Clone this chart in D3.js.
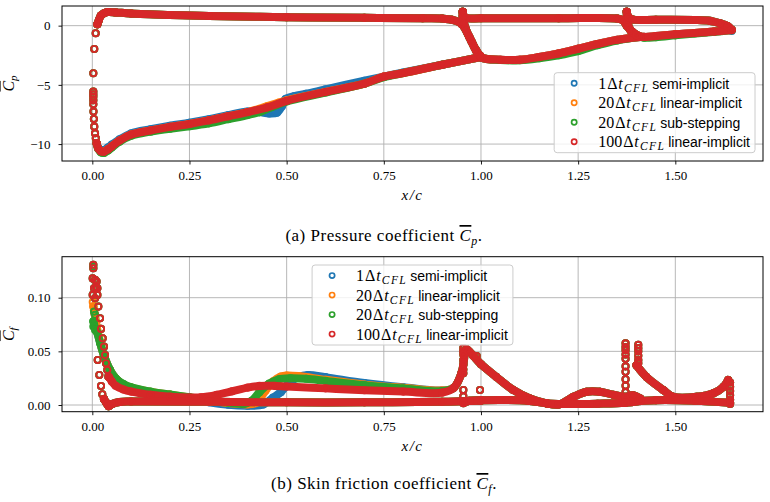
<!DOCTYPE html>
<html>
<head>
<meta charset="utf-8">
<script src="https://cdn.jsdelivr.net/npm/d3@7"></script>
<style>
  body { margin: 0; background: #fff; }
</style>
</head>
<body>
<div id="fig"></div>
<script>
// ---- runs (legend order = draw order) ----
const runFactor = ["1", "20", "20", "100"];
const runScheme = ["semi-implicit", "linear-implicit", "sub-stepping", "linear-implicit"];
const runColor  = ["#1f77b4", "#ff7f0e", "#2ca02c", "#d62728"];

// ---- ticks ----
const xTicks  = [0, 0.25, 0.5, 0.75, 1.0, 1.25, 1.5];
const cpTicks = [0, -5, -10];
const cfTicks = [0, 0.05, 0.10];

// ---- mean Cp, pairs of [x/c, Cp] ----
// sparse samples round the main-element leading edge
const cpLePts = [[0.0026,-4.02],[0.005,-1.97],[0.0087,-0.64],[0.013,0.12],[0.0026,-5.57],[0.0026,-5.8],
  [0.0026,-6.0],[0.0026,-6.3],[0.0026,-6.64],[0.003,-7.26],[0.004,-7.88],[0.005,-8.53],[0.007,-9.09],
  [0.009,-9.51],[0.011,-9.93]];
const cpTe1Pts = [[1.645,-0.45]];

// main element suction side, one per run
const cpMainSuction1 = [[0.011,-9.93],[0.015,-10.3],[0.022,-10.5],[0.03,-10.5],[0.04,-10.3],[0.05,-10.05],
  [0.07,-9.6],[0.1,-9.1],[0.15,-8.75],[0.2,-8.45],[0.25,-8.2],[0.3,-7.9],[0.35,-7.55],[0.4,-7.25],
  [0.43,-7.3],[0.455,-7.42],[0.475,-7.35],[0.488,-6.8],[0.497,-6.2],[0.52,-5.95],[0.55,-5.75],[0.6,-5.38],
  [0.7,-4.65],[0.75,-4.3],[0.8,-3.95],[0.9,-3.3],[1.0,-2.65]];
const cpMainSuction20lin = [[0.011,-9.93],[0.015,-10.35],[0.022,-10.6],[0.03,-10.65],[0.04,-10.45],
  [0.05,-10.2],[0.07,-9.7],[0.1,-9.2],[0.15,-8.85],[0.2,-8.55],[0.25,-8.3],[0.3,-8.0],[0.35,-7.65],
  [0.4,-7.3],[0.45,-6.8],[0.48,-6.5],[0.5,-6.3],[0.6,-5.6],[0.7,-4.9],[0.75,-4.3],[0.8,-4.0],[0.9,-3.3],[1.0,-2.65]];
const cpMainSuction20sub = [[0.011,-9.93],[0.015,-10.4],[0.022,-10.7],[0.03,-10.75],[0.04,-10.55],
  [0.05,-10.3],[0.07,-9.8],[0.1,-9.3],[0.15,-8.95],[0.2,-8.7],[0.25,-8.5],[0.3,-8.25],[0.35,-7.9],
  [0.4,-7.55],[0.43,-7.3],[0.46,-6.9],[0.5,-6.4],[0.6,-5.65],[0.7,-4.9],[0.75,-4.35],[0.8,-4.0],[0.9,-3.3],[1.0,-2.65]];
const cpMainSuction100lin = [[0.011,-9.93],[0.015,-10.35],[0.022,-10.6],[0.03,-10.65],[0.04,-10.45],
  [0.05,-10.2],[0.07,-9.7],[0.1,-9.2],[0.15,-8.85],[0.2,-8.55],[0.25,-8.3],[0.3,-8.0],[0.35,-7.65],
  [0.4,-7.3],[0.45,-6.9],[0.5,-6.35],[0.6,-5.6],[0.7,-4.9],[0.75,-4.3],[0.8,-4.0],[0.9,-3.3],[1.0,-2.65]];

// shared by all runs
const cpMainPressure = [[0.013,0.12],[0.017,0.48],[0.022,0.85],[0.03,1.05],[0.04,1.15],[0.06,1.12],
  [0.1,1.02],[0.2,0.9],[0.3,0.82],[0.5,0.72],[0.7,0.66],[0.85,0.62],[0.9,0.6],[0.925,0.5],[0.95,0.15],
  [0.97,-0.95],[0.988,-2.1],[0.998,-2.55]];
const cpFlapPressure = [[0.953,1.18],[0.955,0.85],[0.962,0.64],[1.0,0.62],[1.2,0.62],[1.35,0.6],
  [1.365,0.45],[1.375,0.0],[1.39,-0.55],[1.41,-0.95]];
const cpFlapSuction = [[0.953,1.18],[0.953,0.76],[0.96,-0.2],[0.975,-1.3],[0.989,-2.2],[1.002,-2.7],
  [1.05,-2.88],[1.1,-2.88],[1.15,-2.65],[1.2,-2.35],[1.25,-1.95],[1.3,-1.55],[1.35,-1.2],[1.41,-0.95]];
const cpFlapSuction20sub = [[0.953,1.18],[0.953,0.76],[0.96,-0.2],[0.975,-1.3],[0.989,-2.2],[1.002,-2.7],
  [1.05,-2.9],[1.1,-2.92],[1.15,-2.75],[1.2,-2.5],[1.25,-2.15],[1.3,-1.65],[1.35,-1.25],[1.41,-0.95]];
const cpAftPressure = [[1.375,1.18],[1.38,0.7],[1.39,0.52],[1.45,0.5],[1.55,0.48],[1.59,0.4],
  [1.615,0.2],[1.635,-0.05],[1.645,-0.36]];
const cpAftSuction = [[1.375,1.18],[1.377,0.3],[1.385,-0.4],[1.4,-0.8],[1.42,-0.95],[1.45,-0.88],
  [1.5,-0.72],[1.55,-0.62],[1.6,-0.5],[1.645,-0.36]];
const cpAftSuction20sub = [[1.375,1.18],[1.377,0.3],[1.385,-0.4],[1.4,-0.85],[1.42,-1.02],[1.45,-0.98],
  [1.5,-0.82],[1.55,-0.66],[1.6,-0.52],[1.645,-0.36]];

// ---- mean Cf, pairs of [x/c, Cf] ----
const cfLeSuctionPts = [[0.0026,0.1306],[0.0026,0.1275],[0.001,0.118],[0.007,0.1166],[0.011,0.115],
  [0.0095,0.11],[0.0044,0.1088],[0.013,0.1088],[0.001,0.1026],[0.007,0.0995],[0.013,0.1026],
  [0.0155,0.0917],[0.0198,0.0809],[0.0224,0.0709],[0.0267,0.0622],[0.03,0.0544],[0.0327,0.0466],
  [0.0353,0.0389],[0.0386,0.0327],[0.0412,0.0264]];
const cfLePressurePts = [[0.0139,0.042],[0.018,0.028],[0.0224,0.0177],[0.0257,0.01],[0.03,0.0056]];
const cfLe20linPts = [[0.001,0.096],[0.0026,0.0917],[0.004,0.088]];
const cfLe20subPts = [[0.0026,0.129],[0.0044,0.087],[0.007,0.084],[0.0026,0.0777],[0.0026,0.0731],[0.007,0.07]];
const cfSlotPts = [[0.9546,0.053],[0.9546,0.047],[0.9546,0.042],[0.9546,0.0375],[0.9546,0.033],
  [0.9546,0.0296],[0.9546,0.014],[0.9546,0.008],[0.9546,0.0016],[0.989,0.0457],[0.9975,0.014]];
const cfAftLePts = [[1.372,0.0575],[1.372,0.054],[1.372,0.051],[1.372,0.047],[1.372,0.043],[1.372,0.036],
  [1.372,0.031],[1.372,0.024],[1.372,0.018],[1.372,0.012],[1.372,0.006],[1.372,0.002],
  [1.4047,0.056],[1.4047,0.053],[1.4047,0.05],[1.4047,0.046],[1.4047,0.042],[1.4047,0.039]];
const cfTePts = [[1.641,0.021],[1.641,0.017],[1.641,0.013],[1.641,0.009],[1.641,0.005],[1.641,0.001]];

// main element suction side, one per run
const cfMainSuction1 = [[0.006,0.085],[0.012,0.07],[0.02,0.058],[0.03,0.046],[0.045,0.033],[0.06,0.025],
  [0.08,0.019],[0.1,0.0158],[0.15,0.0118],[0.2,0.009],[0.25,0.0062],[0.3,0.0025],[0.35,0.0002],
  [0.4,-0.0006],[0.44,0.0004],[0.465,0.007],[0.485,0.012],[0.505,0.02],[0.53,0.026],[0.555,0.028],
  [0.6,0.026],[0.7,0.0205],[0.8,0.0165],[0.9,0.0135],[0.93,0.016],[0.95,0.03],[0.958,0.048]];
const cfMainSuction20lin = [[0.003,0.092],[0.006,0.085],[0.012,0.072],[0.02,0.059],[0.03,0.046],
  [0.045,0.033],[0.06,0.025],[0.08,0.019],[0.1,0.0162],[0.15,0.0122],[0.2,0.0097],[0.25,0.007],
  [0.3,0.0042],[0.35,0.0018],[0.4,0.0006],[0.422,0.002],[0.445,0.013],[0.465,0.022],[0.485,0.0265],
  [0.5,0.0275],[0.53,0.027],[0.6,0.0235],[0.7,0.019],[0.8,0.016],[0.9,0.0135],[0.93,0.016],[0.95,0.03],[0.958,0.048]];
const cfMainSuction20sub = [[0.003,0.078],[0.007,0.072],[0.012,0.068],[0.02,0.058],[0.03,0.046],
  [0.045,0.033],[0.06,0.025],[0.08,0.0195],[0.1,0.0165],[0.15,0.0125],[0.2,0.0098],[0.25,0.0072],
  [0.3,0.0045],[0.35,0.0022],[0.39,0.001],[0.41,0.004],[0.43,0.012],[0.455,0.02],[0.48,0.024],
  [0.51,0.025],[0.55,0.0245],[0.6,0.0225],[0.7,0.0185],[0.8,0.0155],[0.9,0.013],[0.93,0.016],[0.95,0.03],[0.958,0.048]];
const cfMainSuction100lin = [[0.043,0.026],[0.05,0.022],[0.06,0.018],[0.08,0.0145],[0.1,0.0125],
  [0.15,0.0095],[0.2,0.0078],[0.25,0.007],[0.28,0.0072],[0.32,0.0095],[0.36,0.0128],[0.4,0.0162],
  [0.43,0.0178],[0.47,0.0178],[0.5,0.0172],[0.6,0.0155],[0.7,0.0138],[0.8,0.0125],[0.9,0.0115],
  [0.93,0.016],[0.95,0.03],[0.958,0.048]];

// shared by all runs
const cfMainPressure = [[0.03,0.0056],[0.036,0.002],[0.042,-0.0012],[0.05,0.0008],[0.07,0.0028],
  [0.1,0.0032],[0.3,0.003],[0.5,0.0025],[0.7,0.0025],[0.9,0.003],[0.95,0.0035],[1.0,0.004]];
const cfFlapSuction = [[0.955,0.05],[0.963,0.052],[0.98,0.046],[1.0,0.038],[1.04,0.026],[1.083,0.014],
  [1.126,0.006],[1.169,0.0015],[1.2,0.0005],[1.238,0.0077],[1.272,0.0124],[1.306,0.0124],
  [1.341,0.0095],[1.37,0.0077],[1.39,0.009],[1.41,0.006]];
const cfFlapPressure = [[0.955,0.002],[0.97,0.004],[1.0,0.0045],[1.066,0.0047],[1.12,0.004],
  [1.17,0.0015],[1.2,0.001],[1.3,0.0012],[1.37,0.002],[1.41,0.004]];
const cfAftSuction = [[1.4,0.037],[1.426,0.026],[1.469,0.014],[1.495,0.0077],[1.555,0.0077],
  [1.598,0.011],[1.624,0.017],[1.636,0.0233]];
const cfAftPressure = [[1.385,0.003],[1.45,0.0045],[1.55,0.004],[1.641,0.002]];


// ---- layout ----
const W = 770, H = 502;
const L = 62, R = 763;
const serif = "'Liberation Serif', 'Times New Roman', serif";
const sans  = "'Liberation Sans', Arial, sans-serif";

const svg = d3.select("#fig").append("svg")
  .attr("width", W).attr("height", H)
  .style("background", "#fff");

const panels = [
  {
    id: "cp", top: 6, bottom: 161, yDomain: [-11.43, 1.66],
    yTicks: cpTicks, yFmt: d3.format("d"), sub: "p",
    runBands: [
      [cpMainSuction1, cpMainPressure, cpFlapSuction, cpFlapPressure, cpAftSuction, cpAftPressure],
      [cpMainSuction20lin, cpMainPressure, cpFlapSuction, cpFlapPressure, cpAftSuction, cpAftPressure],
      [cpMainSuction20sub, cpMainPressure, cpFlapSuction20sub, cpFlapPressure, cpAftSuction20sub, cpAftPressure],
      [cpMainSuction100lin, cpMainPressure, cpFlapSuction, cpFlapPressure, cpAftSuction, cpAftPressure]
    ],
    runPoints: [[cpLePts, cpTe1Pts], [cpLePts], [cpLePts], [cpLePts]],
    legend: "lower right",
    caption: ["(a) Pressure coefficient ", "p"], captionY: 241
  },
  {
    id: "cf", top: 256.7, bottom: 411.7, yDomain: [-0.00624, 0.1382],
    yTicks: cfTicks, yFmt: d3.format(".2f"), sub: "f",
    runBands: [
      [cfMainSuction1, cfMainPressure, cfFlapSuction, cfFlapPressure, cfAftSuction, cfAftPressure],
      [cfMainSuction20lin, cfMainPressure, cfFlapSuction, cfFlapPressure, cfAftSuction, cfAftPressure],
      [cfMainSuction20sub, cfMainPressure, cfFlapSuction, cfFlapPressure, cfAftSuction, cfAftPressure],
      [cfMainSuction100lin, cfMainPressure, cfFlapSuction, cfFlapPressure, cfAftSuction, cfAftPressure]
    ],
    runPoints: [
      [cfLeSuctionPts, cfLePressurePts, cfSlotPts, cfAftLePts, cfTePts],
      [cfLe20linPts, cfLeSuctionPts, cfLePressurePts, cfSlotPts, cfAftLePts, cfTePts],
      [cfLe20subPts, cfLeSuctionPts, cfLePressurePts, cfSlotPts, cfAftLePts, cfTePts],
      [cfLeSuctionPts, cfLePressurePts, cfSlotPts, cfAftLePts, cfTePts]
    ],
    legend: "upper center",
    caption: ["(b) Skin friction coefficient ", "f"], captionY: 489
  }
];

panels.forEach(drawPanel);

function drawPanel(p) {
  const x = d3.scaleLinear().domain([-0.078, 1.7256]).range([L, R]);
  const y = d3.scaleLinear().domain(p.yDomain).range([p.bottom, p.top]);
  const g = svg.append("g").attr("class", "panel-" + p.id);

  // grid
  g.append("g").selectAll("line").data(xTicks).join("line")
    .attr("x1", d => x(d)).attr("x2", d => x(d))
    .attr("y1", p.top).attr("y2", p.bottom)
    .attr("stroke", "#b0b0b0").attr("stroke-width", 0.9);
  g.append("g").selectAll("line").data(p.yTicks).join("line")
    .attr("x1", L).attr("x2", R)
    .attr("y1", d => y(d)).attr("y2", d => y(d))
    .attr("stroke", "#b0b0b0").attr("stroke-width", 0.9);

  // data
  svg.append("clipPath").attr("id", "clip-" + p.id)
    .append("rect").attr("x", L).attr("y", p.top)
    .attr("width", R - L).attr("height", p.bottom - p.top);

  const line = d3.line()
    .x(d => x(d[0])).y(d => y(d[1]))
    .curve(d3.curveCatmullRom);

  const dataG = g.append("g").attr("clip-path", `url(#clip-${p.id})`);
  p.runBands.forEach((bands, i) => {
    const run = dataG.append("g");
    run.selectAll("path").data(bands).join("path")
      .attr("d", line)
      .attr("fill", "none")
      .attr("stroke", runColor[i])
      .attr("stroke-width", 8)
      .attr("stroke-linecap", "round")
      .attr("stroke-linejoin", "round");
    const pts = bands.concat(p.runPoints[i]).flat();
    run.selectAll("circle").data(pts).join("circle")
      .attr("cx", d => x(d[0])).attr("cy", d => y(d[1]))
      .attr("r", 3.1)
      .attr("fill", "none")
      .attr("stroke", runColor[i])
      .attr("stroke-width", 1.9);
  });

  // axes
  const ax = g.append("g")
    .attr("transform", `translate(0,${p.bottom})`)
    .call(d3.axisBottom(x).tickValues(xTicks).tickFormat(d3.format(".2f")).tickSize(3.5).tickPadding(6.5));
  const ay = g.append("g")
    .attr("transform", `translate(${L},0)`)
    .call(d3.axisLeft(y).tickValues(p.yTicks).tickFormat(p.yFmt).tickSize(3.5).tickPadding(8));
  [ax, ay].forEach(a => {
    a.select(".domain").remove();
    a.attr("font-family", serif).attr("font-size", 13);
    a.selectAll(".tick line").attr("stroke", "#000").attr("stroke-width", 0.9);
    a.selectAll(".tick text").attr("fill", "#000");
  });

  g.append("rect")
    .attr("x", L).attr("y", p.top)
    .attr("width", R - L).attr("height", p.bottom - p.top)
    .attr("fill", "none").attr("stroke", "#000").attr("stroke-width", 1);

  // axis labels
  g.append("text")
    .attr("x", (L + R) / 2).attr("y", p.bottom + 39)
    .attr("text-anchor", "middle")
    .attr("font-family", serif).attr("font-style", "italic")
    .attr("font-size", 15).attr("letter-spacing", 1.5)
    .text("x/c");

  const yl = g.append("text")
    .attr("transform", `translate(14,${(p.top + p.bottom) / 2}) rotate(-90)`)
    .attr("text-anchor", "middle")
    .attr("font-family", serif).attr("font-style", "italic");
  yl.append("tspan").attr("font-size", 16)
    .attr("text-decoration", "overline").text("C");
  yl.append("tspan").attr("font-size", 11).attr("dy", 3).text(p.sub);

  drawLegend(p, g);

  // caption
  const cap = svg.append("text")
    .attr("x", 384).attr("y", p.captionY)
    .attr("text-anchor", "middle")
    .attr("font-family", serif).attr("font-size", 17)
    .attr("letter-spacing", 0.5);
  cap.append("tspan").text(p.caption[0]);
  cap.append("tspan").attr("font-style", "italic")
    .attr("text-decoration", "overline").text("C");
  cap.append("tspan").attr("font-style", "italic").attr("font-size", 12)
    .attr("dy", 3.5).text(p.caption[1]);
  cap.append("tspan").attr("dy", -3.5).text(".");
}

function drawLegend(p, g) {
  const rowGap = 19.5, boxH = 80;
  const leg = g.append("g");
  const rows = leg.selectAll("g.row").data(runFactor).join("g")
    .attr("class", "row")
    .attr("transform", (d, i) => `translate(0,${10.6 + i * rowGap})`);

  rows.append("circle")
    .attr("cx", 20).attr("cy", 0).attr("r", 2.6)
    .attr("fill", "none")
    .attr("stroke", (d, i) => runColor[i])
    .attr("stroke-width", 1.7);

  const t = rows.append("text")
    .attr("x", 44).attr("y", 0).attr("dy", "0.35em")
    .attr("font-family", serif).attr("font-size", 16);
  t.append("tspan").text(d => d);
  t.append("tspan").attr("dx", 1).text("Δ");
  t.append("tspan").attr("dx", 0.8).attr("font-style", "italic").text("t");
  t.append("tspan").attr("dx", 1.2).attr("dy", 3).attr("font-style", "italic")
    .attr("font-size", 11.5).attr("letter-spacing", 1.4).text("CFL");
  t.append("tspan").attr("dx", 3).attr("dy", -3)
    .attr("font-family", sans).attr("font-size", 14)
    .text((d, i) => runScheme[i]);

  const bb = leg.node().getBBox();
  const boxW = bb.x + bb.width + 5;
  leg.insert("rect", ":first-child")
    .attr("x", 0).attr("y", 0).attr("rx", 3)
    .attr("width", boxW).attr("height", boxH)
    .attr("fill", "#fff").attr("fill-opacity", 0.8)
    .attr("stroke", "#cccccc").attr("stroke-width", 1);

  let tx, ty;
  if (p.legend === "lower right") {
    tx = R - 8 - boxW; ty = p.bottom - 8.3 - boxH;
  } else {
    tx = (L + R) / 2 - boxW / 2; ty = p.top + 8.3;
  }
  leg.attr("transform", `translate(${tx},${ty})`);
}
</script>
</body>
</html>
